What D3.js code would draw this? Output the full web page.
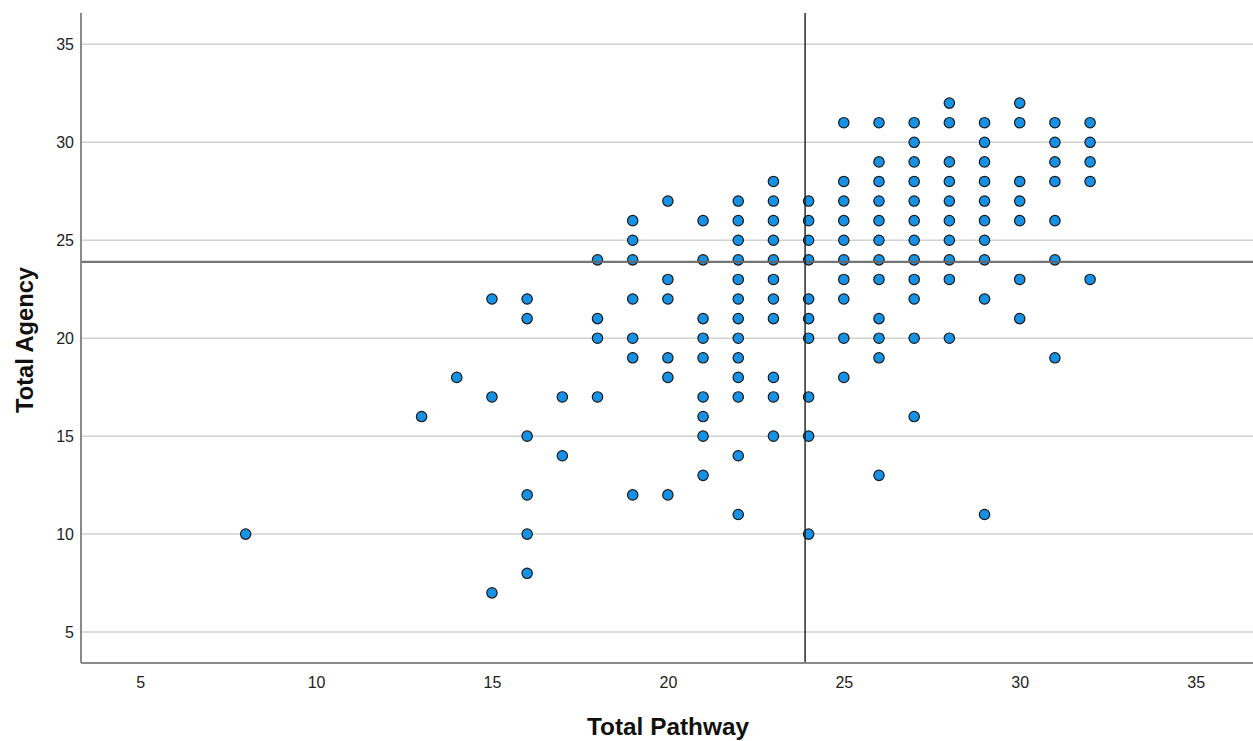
<!DOCTYPE html>
<html>
<head>
<meta charset="utf-8">
<script src="https://cdn.jsdelivr.net/npm/d3@7"></script>
<style>
  html, body { margin: 0; padding: 0; background: #fff; }
  svg { display: block; }
</style>
</head>
<body>
<svg id="chart" width="1253" height="741"></svg>
<script>
// ---- data ----
const pathway = [
  8,
  13,
  14,
  15,15,15,
  16,16,16,16,16,16,
  17,17,
  18,18,18,18,
  19,19,19,19,19,19,19,
  20,20,20,20,20,20,
  21,21,21,21,21,21,21,21,21,
  22,22,22,22,22,22,22,22,22,22,22,22,22,
  23,23,23,23,23,23,23,23,23,23,23,
  24,24,24,24,24,24,24,24,24,24,
  25,25,25,25,25,25,25,25,25,25,
  26,26,26,26,26,26,26,26,26,26,26,26,
  27,27,27,27,27,27,27,27,27,27,27,27,
  28,28,28,28,28,28,28,28,28,28,
  29,29,29,29,29,29,29,29,29,29,
  30,30,30,30,30,30,30,
  31,31,31,31,31,31,31,
  32,32,32,32,32
];
const agency = [
  10,
  16,
  18,
  22,17,7,
  22,21,15,12,10,8,
  17,14,
  24,21,20,17,
  26,25,24,22,20,19,12,
  27,23,22,19,18,12,
  26,24,21,20,19,17,16,15,13,
  27,26,25,24,23,22,21,20,19,18,17,14,11,
  28,27,26,25,24,23,22,21,18,17,15,
  27,26,25,24,22,21,20,17,15,10,
  31,28,27,26,25,24,23,22,20,18,
  31,29,28,27,26,25,24,23,21,20,19,13,
  31,30,29,28,27,26,25,24,23,22,20,16,
  32,31,29,28,27,26,25,24,23,20,
  31,30,29,28,27,26,25,24,22,11,
  32,31,28,27,26,23,21,
  31,30,29,28,26,24,19,
  31,30,29,28,23
];
const xTicks = [5, 10, 15, 20, 25, 30, 35];
const yTicks = [5, 10, 15, 20, 25, 30, 35];
const xMeanLine = 23.9;
const yMeanLine = 23.9;
const xTitle = "Total Pathway";
const yTitle = "Total Agency";

// ---- layout ----
const W = 1253, H = 741;
const plot = { left: 81, right: 1253, top: 13, bottom: 663 };

const x = d3.scaleLinear().domain([3.32, 36.63]).range([plot.left, plot.right]);
const y = d3.scaleLinear().domain([3.42, 36.6]).range([plot.bottom, plot.top]);

const svg = d3.select("#chart");
const font = "'Liberation Sans', Arial, sans-serif";

// gridlines (horizontal only)
svg.append("g")
  .selectAll("line")
  .data(yTicks)
  .join("line")
  .attr("x1", plot.left).attr("x2", plot.right)
  .attr("y1", d => y(d)).attr("y2", d => y(d))
  .attr("stroke", "#d2d2d2").attr("stroke-width", 1.5);

// y axis
const yAxis = svg.append("g")
  .attr("transform", `translate(${plot.left},0)`)
  .call(d3.axisLeft(y).tickValues(yTicks).tickSize(0).tickPadding(7));
yAxis.select(".domain").remove();
yAxis.selectAll("text")
  .attr("font-family", font).attr("font-size", 16).attr("fill", "#222");

// x axis
const xAxis = svg.append("g")
  .attr("transform", `translate(0,${plot.bottom})`)
  .call(d3.axisBottom(x).tickValues(xTicks).tickSize(0).tickPadding(14));
xAxis.select(".domain").remove();
xAxis.selectAll("text")
  .attr("font-family", font).attr("font-size", 16).attr("fill", "#222");

// points
const pts = pathway.map((p, i) => ({ p, a: agency[i] }));
svg.append("g")
  .selectAll("circle")
  .data(pts)
  .join("circle")
  .attr("cx", d => x(d.p))
  .attr("cy", d => y(d.a))
  .attr("r", 5.2)
  .attr("fill", "#1592e6")
  .attr("stroke", "#1a1a1a")
  .attr("stroke-width", 1.2);

// reference lines
svg.append("line")
  .attr("x1", plot.left).attr("x2", plot.right)
  .attr("y1", y(yMeanLine)).attr("y2", y(yMeanLine))
  .attr("stroke", "#666").attr("stroke-opacity", 0.9).attr("stroke-width", 2.2);
svg.append("line")
  .attr("x1", x(xMeanLine)).attr("x2", x(xMeanLine))
  .attr("y1", plot.top).attr("y2", plot.bottom)
  .attr("stroke", "#1a1a1a").attr("stroke-width", 1.4);

// axis lines
svg.append("line")
  .attr("x1", plot.left).attr("x2", plot.left)
  .attr("y1", plot.top).attr("y2", plot.bottom)
  .attr("stroke", "#8a8a8a").attr("stroke-width", 2);
svg.append("line")
  .attr("x1", plot.left).attr("x2", plot.right)
  .attr("y1", plot.bottom).attr("y2", plot.bottom)
  .attr("stroke", "#8a8a8a").attr("stroke-width", 2);

// titles
svg.append("text")
  .attr("x", 668)
  .attr("y", 735)
  .attr("text-anchor", "middle")
  .attr("font-family", font).attr("font-weight", "bold").attr("font-size", 23)
  .attr("textLength", 162).attr("lengthAdjust", "spacingAndGlyphs")
  .attr("fill", "#111")
  .text(xTitle);

svg.append("text")
  .attr("transform", `translate(33,340) rotate(-90)`)
  .attr("text-anchor", "middle")
  .attr("font-family", font).attr("font-weight", "bold").attr("font-size", 23)
  .attr("textLength", 146).attr("lengthAdjust", "spacingAndGlyphs")
  .attr("fill", "#111")
  .text(yTitle);
</script>
</body>
</html>
